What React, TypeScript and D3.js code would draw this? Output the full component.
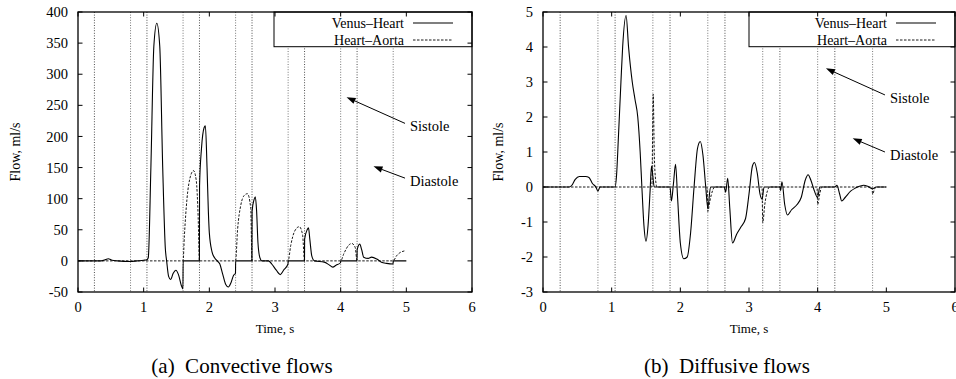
import * as d3 from 'd3';

// cycle marker times (s)
const cycleLines = [0.25, 0.8, 1.05, 1.6, 1.85, 2.4, 2.65, 3.2, 3.45, 4.0, 4.25, 4.8];
const xTicks = [0, 1, 2, 3, 4, 5, 6];

// (a) convective flows, ml/s
const convVenusHeart = [
  [0, 0], [0.25, 0], [0.35, 0], [0.42, 2], [0.46, 3.5], [0.52, 1], [0.6, 0], [0.8, -1], [0.9, 0], [1.0, 1], [1.05, 2],
  [1.07, 5], [1.11, 150], [1.155, 345], [1.2, 382], [1.245, 345], [1.29, 150], [1.33, 20], [1.35, 0], [1.38, -25],
  [1.41, -30], [1.45, -20], [1.49, -15], [1.53, -22], [1.575, -40], [1.598, -45], [1.601, 0], [1.849, 0], [1.851, 120],
  [1.88, 180], [1.92, 214], [1.94, 217], [1.965, 150], [1.985, 80], [2.0, 45], [2.04, 15], [2.08, 5], [2.12, 0],
  [2.16, -5], [2.2, -20], [2.25, -38], [2.29, -42], [2.33, -35], [2.37, -23], [2.398, -20], [2.401, 0], [2.649, 0],
  [2.651, 80], [2.68, 98], [2.7, 103], [2.72, 80], [2.74, 30], [2.77, 5], [2.8, 0], [2.9, 0], [2.95, -5], [3.02, -15],
  [3.08, -22], [3.13, -15], [3.198, -5], [3.201, 0], [3.449, 0], [3.451, 35], [3.49, 50], [3.51, 53], [3.53, 35],
  [3.56, 8], [3.6, 0], [3.75, -2], [3.82, -6], [3.88, -10], [3.93, -7], [3.998, -3], [4.001, 0], [4.249, 0],
  [4.251, 18], [4.29, 27], [4.32, 18], [4.35, 6], [4.42, 4], [4.47, 6], [4.55, 3], [4.62, -2], [4.7, -4],
  [4.798, -5], [4.801, 0], [5.0, 0],
];
const convHeartAorta = [
  [0, 0], [1.6, 0], [1.62, 40], [1.66, 100], [1.71, 135], [1.76, 145], [1.8, 130], [1.83, 70], [1.849, 0],
  [2.4, 0], [2.43, 50], [2.48, 90], [2.53, 105], [2.58, 108], [2.63, 85], [2.65, 0],
  [3.2, 0], [3.24, 25], [3.3, 48], [3.37, 55], [3.42, 42], [3.45, 0],
  [4.0, 0], [4.05, 12], [4.12, 25], [4.17, 28], [4.22, 22], [4.25, 0],
  [4.8, 0], [4.85, 8], [4.9, 13], [4.97, 16],
];

// (b) diffusive flows, ml/s
const diffVenusHeart = [
  [0, 0], [0.38, 0], [0.42, 0.05], [0.47, 0.22], [0.53, 0.3], [0.62, 0.3], [0.67, 0.27], [0.72, 0.1], [0.77, 0],
  [0.8, -0.12], [0.83, 0], [1.05, 0], [1.07, 0.3], [1.1, 1.5], [1.135, 3], [1.16, 4], [1.21, 4.9], [1.246, 4],
  [1.3, 3], [1.34, 2.5], [1.38, 2.0], [1.415, 1.0], [1.44, 0], [1.47, -1.1], [1.5, -1.55], [1.53, -1.1],
  [1.56, -0.1], [1.58, 0.6], [1.6, 0.3], [1.62, 0], [1.85, 0], [1.87, -0.4], [1.9, 0.1], [1.93, 0.65],
  [1.96, -0.3], [2.0, -1.6], [2.05, -2.05], [2.1, -2.0], [2.15, -1.3], [2.2, 0], [2.25, 1.1], [2.29, 1.3],
  [2.33, 0.9], [2.37, 0], [2.4, -0.6], [2.44, 0], [2.64, 0], [2.66, -0.15], [2.69, 0.25], [2.72, -0.6],
  [2.76, -1.6], [2.82, -1.35], [2.88, -1.15], [2.95, -0.9], [3.0, -0.2], [3.05, 0.6], [3.08, 0.7], [3.12, 0.4],
  [3.16, -0.2], [3.19, -0.35], [3.22, 0], [3.45, 0], [3.46, -0.1], [3.48, 0.15], [3.52, -0.5], [3.56, -0.8],
  [3.62, -0.65], [3.7, -0.5], [3.76, -0.3], [3.82, 0.2], [3.86, 0.35], [3.9, 0.2], [3.95, -0.1], [4.0, -0.3],
  [4.03, 0], [4.25, 0], [4.28, 0.05], [4.32, -0.2], [4.35, -0.4], [4.4, -0.3], [4.48, -0.12], [4.55, -0.03],
  [4.62, 0.03], [4.67, 0.05], [4.73, 0.02], [4.8, -0.05], [4.85, 0], [5.0, 0],
];
const diffHeartAorta = [
  [0, 0], [1.585, 0], [1.605, 2.65], [1.62, 1.0], [1.64, 0.2], [1.66, 0], [2.39, 0], [2.4, -0.7], [2.43, -0.4],
  [2.47, -0.1], [2.5, 0], [3.19, 0], [3.2, -1.02], [3.23, -0.5], [3.27, -0.1], [3.3, 0], [3.99, 0], [4.0, -0.5],
  [4.03, -0.2], [4.06, 0], [4.79, 0], [4.8, -0.2], [4.83, -0.05], [4.86, 0], [5.0, 0],
];

const convYTicks = [-50, 0, 50, 100, 150, 200, 250, 300, 350, 400];
const diffYTicks = [-3, -2, -1, 0, 1, 2, 3, 4, 5];

// arrows: [headX, headY, tailX, tailY, label]
const convArrows = [[4.09, 263, 4.98, 221, 'Sistole'], [4.5, 152, 4.98, 133, 'Diastole']];
const diffArrows = [[4.12, 3.39, 4.98, 2.63, 'Sistole'], [4.51, 1.39, 4.98, 1.0, 'Diastole']];

const seriesNames = ['Venus\u2013Heart', 'Heart\u2013Aorta'];

const panels = [
  { x0: 78, x1: 472, yDomain: [-50, 400], yTicks: convYTicks, solid: convVenusHeart, dashed: convHeartAorta,
    arrows: convArrows, legendW: 198, caption: '(a)\u00a0\u00a0Convective flows', capX: 242, ylabX: 15 },
  { x0: 543, x1: 955, yDomain: [-3, 5], yTicks: diffYTicks, solid: diffVenusHeart, dashed: diffHeartAorta,
    arrows: diffArrows, legendW: 206, caption: '(b)\u00a0\u00a0Diffusive flows', capX: 727, ylabX: 498 },
];

const top = 12, bottom = 292;
const font = '"Liberation Serif", "DejaVu Serif", "Noto Serif", serif';

function Panel({ p }: any) {
  const x = d3.scaleLinear().domain([0, 6]).range([p.x0, p.x1]);
  const y = d3.scaleLinear().domain(p.yDomain).range([bottom, top]);
  const line = d3.line<number[]>().x(d => x(d[0])).y(d => y(d[1])).curve(d3.curveMonotoneX);
  const tk = 4.5;
  const lx = p.x1 - p.legendW;
  const cx = (p.x0 + p.x1) / 2;
  return (
    <g style={{ fontFamily: font }}>
      {cycleLines.map((t, i) => (
        <line key={'c' + i} x1={x(t)} x2={x(t)} y1={top} y2={bottom} stroke={i % 2 ? '#555' : '#222'}
          strokeWidth={0.8} strokeDasharray="1,1.6" />
      ))}
      <path d={line(p.dashed as any) || ''} fill="none" stroke="#000" strokeWidth={0.9} strokeDasharray="2.5,1.5" />
      <path d={line(p.solid as any) || ''} fill="none" stroke="#000" strokeWidth={1.1} />
      {/* legend */}
      <rect x={lx} y={top} width={p.legendW} height={34.7} fill="#fff" stroke="#000" strokeWidth={1} />
      {seriesNames.map((n, i) => (
        <g key={n}>
          <text x={p.x1 - 68} y={23 + i * 17} dy="0.35em" textAnchor="end" fontSize={14}>{n}</text>
          <line x1={p.x1 - 59} x2={p.x1 - 19} y1={23 + i * 17} y2={23 + i * 17} stroke="#000"
            strokeWidth={i ? 0.9 : 1.1} strokeDasharray={i ? '2.5,1.5' : undefined} />
        </g>
      ))}
      {/* arrows */}
      {p.arrows.map((a: any, i: number) => {
        const hx = x(a[0]), hy = y(a[1]), tx = x(a[2]), ty = y(a[3]);
        const ang = Math.atan2(hy - ty, hx - tx);
        const L = 9, W = 3.2;
        const bx = hx - L * Math.cos(ang), by = hy - L * Math.sin(ang);
        const pts = [[hx, hy], [bx - W * Math.sin(ang), by + W * Math.cos(ang)], [bx + W * Math.sin(ang), by - W * Math.cos(ang)]];
        return (
          <g key={'a' + i}>
            <line x1={tx} y1={ty} x2={bx} y2={by} stroke="#000" strokeWidth={1} />
            <polygon points={pts.map(q => q.join(',')).join(' ')} fill="#000" />
            <text x={tx + 5} y={ty + 3} dy="0.35em" fontSize={14.5}>{a[4]}</text>
          </g>
        );
      })}
      {/* frame */}
      <rect x={p.x0} y={top} width={p.x1 - p.x0} height={bottom - top} fill="none" stroke="#000" strokeWidth={1.3} />
      {xTicks.map(t => (
        <g key={'x' + t}>
          <line x1={x(t)} x2={x(t)} y1={bottom} y2={bottom - tk} stroke="#000" />
          <line x1={x(t)} x2={x(t)} y1={top} y2={top + tk} stroke="#000" />
          <text x={x(t)} y={307} dy="0.35em" textAnchor="middle" fontSize={14.5}>{t}</text>
        </g>
      ))}
      {p.yTicks.map((t: number) => (
        <g key={'y' + t}>
          <line x1={p.x0} x2={p.x0 + tk} y1={y(t)} y2={y(t)} stroke="#000" />
          <line x1={p.x1} x2={p.x1 - tk} y1={y(t)} y2={y(t)} stroke="#000" />
          <text x={p.x0 - 10} y={y(t)} dy="0.35em" textAnchor="end" fontSize={14.5}>{t}</text>
        </g>
      ))}
      <text x={cx} y={328} dy="0.35em" textAnchor="middle" fontSize={13}>Time, s</text>
      <text transform={`translate(${p.ylabX},152) rotate(-90)`} dy="0.35em" textAnchor="middle" fontSize={14}>Flow, ml/s</text>
      <text x={p.capX} y={366} dy="0.35em" textAnchor="middle" fontSize={21}>{p.caption}</text>
    </g>
  );
}

export default function App() {
  return (
    <svg width={956} height={379} style={{ position: 'absolute', left: 0, top: 0, background: '#fff' }}>
      {panels.map((p, i) => <Panel key={i} p={p} />)}
    </svg>
  );
}
